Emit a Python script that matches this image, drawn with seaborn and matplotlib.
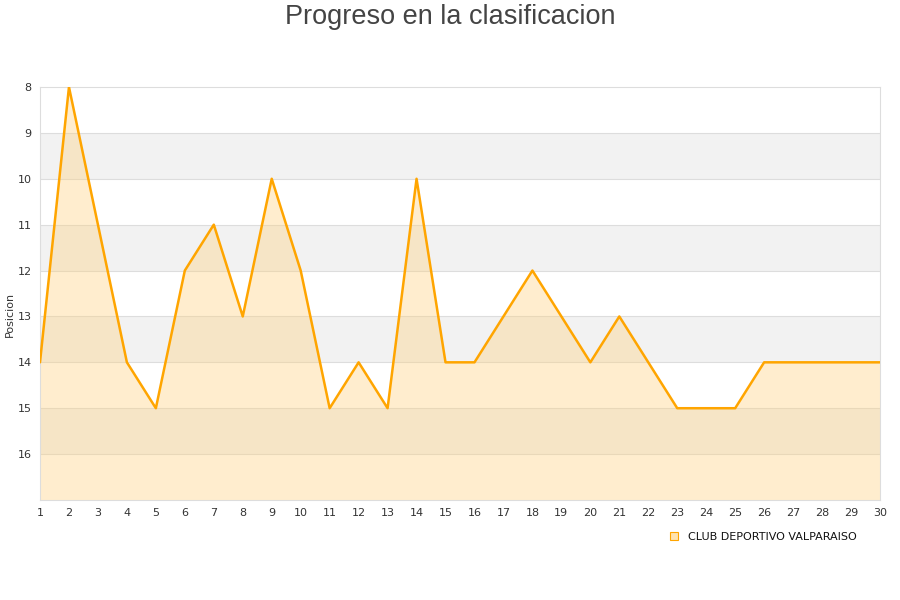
import matplotlib
matplotlib.use('Agg')
import matplotlib.pyplot as plt
import seaborn as sns
import pandas as pd
from matplotlib.lines import Line2D

jornadas = list(range(1, 31))
posiciones = [14, 8, 11, 14, 15, 12, 11, 13, 10, 12,
              15, 14, 15, 10, 14, 14, 13, 12, 13, 14,
              13, 14, 15, 15, 15, 14, 14, 14, 14, 14]
equipo = 'CLUB DEPORTIVO VALPARAISO'
y_ticks = [8, 9, 10, 11, 12, 13, 14, 15, 16]

df = pd.DataFrame({'Jornada': jornadas, 'Posicion': posiciones})

sns.set_style('white')
plt.rcParams['font.family'] = ['DejaVu Sans']

fig = plt.figure(figsize=(9, 6), dpi=100)
ax = fig.add_axes([40 / 900, 1 - 500 / 600, 840 / 900, 413 / 600])

# alternating background bands
for lo in range(8, 17):
    if lo % 2 == 1:
        ax.axhspan(lo, lo + 1, color='#f2f2f2', zorder=0, lw=0)
for t in range(9, 17):
    ax.axhline(t, color='#dddddd', lw=0.8, zorder=0.5)

ax.fill_between(df['Jornada'], df['Posicion'], 17, color='#ffd27f', alpha=0.38,
                lw=0, zorder=1)
sns.lineplot(data=df, x='Jornada', y='Posicion', ax=ax, color='#ffa500', lw=1.8,
             zorder=3)

ax.set_xlim(1, 30)
ax.set_ylim(17, 8)
ax.set_xticks(jornadas)
ax.set_yticks(y_ticks)
ax.tick_params(axis='both', labelsize=8, colors='#333333', length=0, pad=6)
ax.set_xlabel('')
ax.set_ylabel('Posicion', fontsize=8, color='#333333')
ax.yaxis.set_label_coords(-0.03, 0.45)
for s in ax.spines.values():
    s.set_color('#dddddd')
    s.set_linewidth(0.8)

fig.text(0.5, 0.993, 'Progreso en la clasificacion', ha='center', va='top',
         fontsize=19.5, color='#444444', family=['Liberation Sans', 'DejaVu Sans'])

handle = Line2D([], [], marker='s', ls='', markersize=6,
                markerfacecolor='#ffe3b0', markeredgecolor='#ffa500', markeredgewidth=0.8)
fig.legend([handle], [equipo], loc='center', bbox_to_anchor=(760 / 900, 1 - 537 / 600),
           frameon=False, fontsize=8, handletextpad=0.3, borderaxespad=0,
           labelcolor='#111111')

fig.savefig('out.png', dpi=100)
